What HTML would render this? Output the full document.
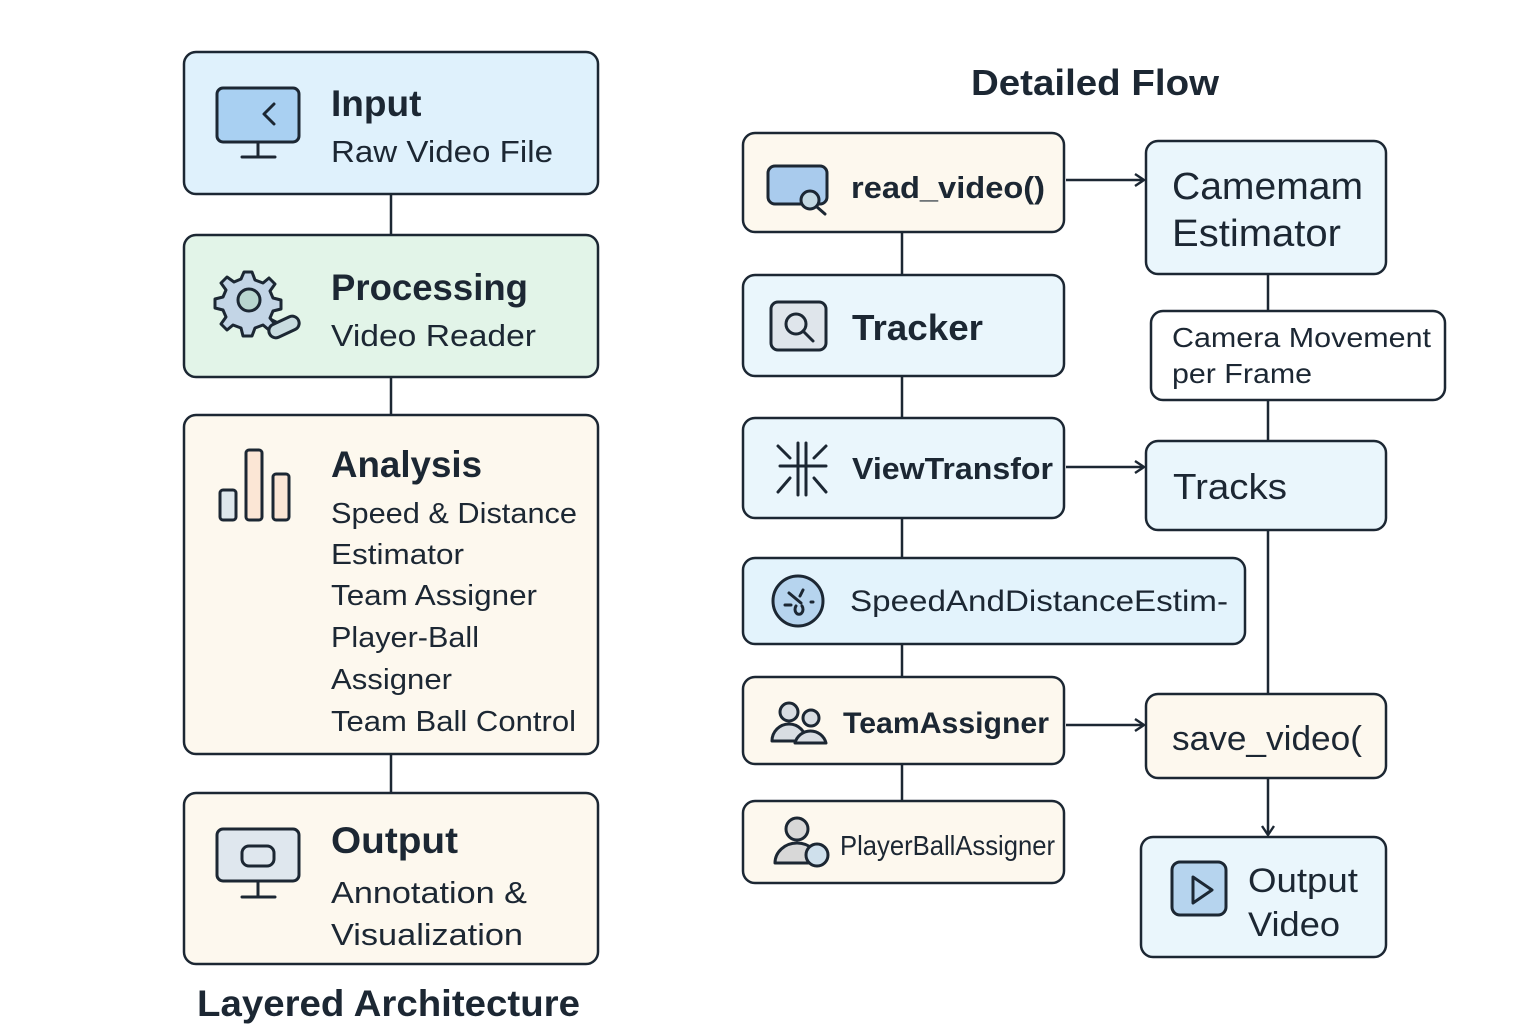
<!DOCTYPE html>
<html><head><meta charset="utf-8"><style>
html,body{margin:0;padding:0;background:#fff;}
svg{display:block;}
text{font-family:"Liberation Sans","DejaVu Sans",sans-serif;fill:#1c2733;}
.b{font-weight:bold;}
</style></head><body>
<svg width="1536" height="1024" viewBox="0 0 1536 1024" xmlns="http://www.w3.org/2000/svg">
<defs>
<marker id="ah" markerWidth="14" markerHeight="14" refX="11" refY="7" orient="auto" markerUnits="userSpaceOnUse">
<path d="M2,1 L11,7 L2,13" fill="none" stroke="#1c2733" stroke-width="2.4"/>
</marker>
</defs>
<g stroke="#1c2733" stroke-width="2.5" fill="none">
<!-- left connectors -->
<line x1="391" y1="194" x2="391" y2="235"/>
<line x1="391" y1="377" x2="391" y2="415"/>
<line x1="391" y1="754" x2="391" y2="793"/>
<!-- right connectors -->
<line x1="902" y1="232" x2="902" y2="275"/>
<line x1="902" y1="376" x2="902" y2="418"/>
<line x1="902" y1="518" x2="902" y2="558"/>
<line x1="902" y1="644" x2="902" y2="677"/>
<line x1="902" y1="764" x2="902" y2="801"/>
<line x1="1268" y1="274" x2="1268" y2="311"/>
<line x1="1268" y1="400" x2="1268" y2="441"/>
<line x1="1268" y1="530" x2="1268" y2="694"/>
<line x1="1268" y1="778" x2="1268" y2="835" marker-end="url(#ah)"/>
<line x1="1066" y1="180" x2="1144" y2="180" marker-end="url(#ah)"/>
<line x1="1066" y1="467" x2="1144" y2="467" marker-end="url(#ah)"/>
<line x1="1066" y1="725" x2="1144" y2="725" marker-end="url(#ah)"/>
</g>
<g stroke="#1c2733" stroke-width="2.5">
<rect x="184" y="52" width="414" height="142" rx="12" fill="#dff1fc"/>
<rect x="184" y="235" width="414" height="142" rx="12" fill="#e2f4e8"/>
<rect x="184" y="415" width="414" height="339" rx="12" fill="#fdf8ee"/>
<rect x="184" y="793" width="414" height="171" rx="12" fill="#fdf8ee"/>
<rect x="743" y="133" width="321" height="99" rx="12" fill="#fdf8ee"/>
<rect x="1146" y="141" width="240" height="133" rx="12" fill="#eaf6fc"/>
<rect x="1151" y="311" width="294" height="89" rx="12" fill="#ffffff"/>
<rect x="743" y="275" width="321" height="101" rx="12" fill="#eaf6fc"/>
<rect x="743" y="418" width="321" height="100" rx="12" fill="#eaf6fc"/>
<rect x="1146" y="441" width="240" height="89" rx="12" fill="#eaf6fc"/>
<rect x="743" y="558" width="502" height="86" rx="12" fill="#e3f3fc"/>
<rect x="743" y="677" width="321" height="87" rx="12" fill="#fdf8ee"/>
<rect x="1146" y="694" width="240" height="84" rx="12" fill="#fdf8ee"/>
<rect x="743" y="801" width="321" height="82" rx="12" fill="#fdf8ee"/>
<rect x="1141" y="837" width="245" height="120" rx="12" fill="#eaf6fc"/>
</g>
<!-- icons -->
<g stroke="#1c2733" stroke-width="3" fill="none" stroke-linecap="round" stroke-linejoin="round">
<rect x="217" y="88" width="82" height="54" rx="6" fill="#a9d0f2"/>
<path d="M274,104 L264,114 L274,124"/>
<line x1="258" y1="142" x2="258" y2="156"/><line x1="242" y1="157" x2="275" y2="157"/>
<path d="M244,272 l8,0 l3,8 l8,3 l6,-5 l6,6 l-5,7 l3,7 l8,2 l0,9 l-8,2 l-3,7 l5,6 l-6,6 l-6,-5 l-8,3 l-3,8 l-9,0 l-2,-8 l-8,-3 l-6,5 l-6,-6 l5,-7 l-3,-7 l-8,-2 l0,-9 l8,-2 l3,-7 l-5,-7 l6,-6 l7,5 l7,-3 z" fill="#c3d5e6"/>
<circle cx="249" cy="300" r="11" fill="#b8d6cf"/>
<line x1="272" y1="320" x2="280" y2="324"/>
<rect x="268" y="320" width="32" height="14" rx="7" transform="rotate(-25 284 327)" fill="#c9dce0"/>
<rect x="220" y="490" width="16" height="30" rx="3" fill="#dde7ec"/>
<rect x="246" y="450" width="16" height="70" rx="3" fill="#fbe6d5"/>
<rect x="273" y="474" width="16" height="46" rx="3" fill="#fbe6d5"/>
<rect x="217" y="829" width="82" height="52" rx="6" fill="#dfe7ee"/>
<rect x="242" y="846" width="32" height="20" rx="7"/>
<line x1="258" y1="881" x2="258" y2="896"/><line x1="242" y1="897" x2="275" y2="897"/>
<rect x="768" y="166" width="59" height="38" rx="7" fill="#a9cbed"/>
<circle cx="810" cy="200" r="9" fill="#c3d8e2"/><line x1="817" y1="207" x2="825" y2="214"/>
<rect x="771" y="302" width="55" height="48" rx="7" fill="#dfe5eb"/>
<circle cx="796" cy="324" r="10"/><line x1="803" y1="331" x2="813" y2="341"/>
<g stroke-width="3">
<line x1="798" y1="443" x2="798" y2="495"/><line x1="806" y1="443" x2="806" y2="495"/>
<line x1="780" y1="466" x2="826" y2="466"/>
<line x1="778" y1="446" x2="790" y2="458"/><line x1="826" y1="446" x2="814" y2="458"/>
<line x1="778" y1="492" x2="790" y2="478"/><line x1="826" y1="492" x2="814" y2="478"/>
</g>
<circle cx="798" cy="601" r="25" fill="#b6d4ee"/>
<path d="M789,593 l12,10 M803,590 l-3,6 M785,605 l6,0 M811,602 l2,0 M796,606 a4,5 0 1,0 6,0"/>
<circle cx="789" cy="712" r="9" fill="#d8dde2"/><path d="M772,741 a17,17 0 0,1 34,0 z" fill="#d8dde2"/>
<circle cx="811" cy="718" r="8" fill="#d8dde2"/><path d="M795,743 a16,16 0 0,1 31,0 z" fill="#d8dde2"/>
<circle cx="797" cy="829" r="11" fill="#d8d8d8"/><path d="M775,863 a22,20 0 0,1 44,0 z" fill="#d8d8d8"/>
<circle cx="817" cy="855" r="11" fill="#cfe0ec"/>
<rect x="1172" y="862" width="54" height="53" rx="8" fill="#b6d4ee"/>
<path d="M1193,877 L1212,890 L1193,903 z"/>
</g>
<!-- text -->
<text x="331" y="116" class="b" font-size="37">Input</text>
<text x="331" y="162" font-size="31" textLength="222" lengthAdjust="spacingAndGlyphs">Raw Video File</text>
<text x="331" y="300" class="b" font-size="37" textLength="197" lengthAdjust="spacingAndGlyphs">Processing</text>
<text x="331" y="346" font-size="31" textLength="205" lengthAdjust="spacingAndGlyphs">Video Reader</text>
<text x="331" y="477" class="b" font-size="37" textLength="151" lengthAdjust="spacingAndGlyphs">Analysis</text>
<g font-size="29">
<text x="331" y="523" textLength="246" lengthAdjust="spacingAndGlyphs">Speed &amp; Distance</text>
<text x="331" y="564" textLength="133" lengthAdjust="spacingAndGlyphs">Estimator</text>
<text x="331" y="605" textLength="206" lengthAdjust="spacingAndGlyphs">Team Assigner</text>
<text x="331" y="647" textLength="148" lengthAdjust="spacingAndGlyphs">Player-Ball</text>
<text x="331" y="689" textLength="121" lengthAdjust="spacingAndGlyphs">Assigner</text>
<text x="331" y="731" textLength="245" lengthAdjust="spacingAndGlyphs">Team Ball Control</text>
</g>
<text x="331" y="853" class="b" font-size="37" textLength="127" lengthAdjust="spacingAndGlyphs">Output</text>
<text x="331" y="903" font-size="31" textLength="196" lengthAdjust="spacingAndGlyphs">Annotation &amp;</text>
<text x="331" y="945" font-size="31" textLength="192" lengthAdjust="spacingAndGlyphs">Visualization</text>
<text x="197" y="1016" class="b" font-size="37" textLength="383" lengthAdjust="spacingAndGlyphs">Layered Architecture</text>
<text x="971" y="95" class="b" font-size="36" textLength="248" lengthAdjust="spacingAndGlyphs">Detailed Flow</text>
<text x="851" y="198" class="b" font-size="31" textLength="194" lengthAdjust="spacingAndGlyphs">read_video()</text>
<text x="1172" y="199" font-size="38" textLength="191" lengthAdjust="spacingAndGlyphs">Camemam</text>
<text x="1172" y="246" font-size="38" textLength="169" lengthAdjust="spacingAndGlyphs">Estimator</text>
<text x="1172" y="347" font-size="28" textLength="259" lengthAdjust="spacingAndGlyphs">Camera Movement</text>
<text x="1172" y="383" font-size="28" textLength="140" lengthAdjust="spacingAndGlyphs">per Frame</text>
<text x="852" y="340" class="b" font-size="36" textLength="131" lengthAdjust="spacingAndGlyphs">Tracker</text>
<text x="852" y="479" class="b" font-size="31" textLength="201" lengthAdjust="spacingAndGlyphs">ViewTransfor</text>
<text x="1173" y="499" font-size="36" textLength="114" lengthAdjust="spacingAndGlyphs">Tracks</text>
<text x="850" y="611" font-size="30" textLength="378" lengthAdjust="spacingAndGlyphs">SpeedAndDistanceEstim-</text>
<text x="843" y="733" class="b" font-size="30" textLength="206" lengthAdjust="spacingAndGlyphs">TeamAssigner</text>
<text x="1172" y="750" font-size="34" textLength="190" lengthAdjust="spacingAndGlyphs">save_video(</text>
<text x="840" y="855" font-size="28" textLength="215" lengthAdjust="spacingAndGlyphs">PlayerBallAssigner</text>
<text x="1248" y="892" font-size="34" textLength="110" lengthAdjust="spacingAndGlyphs">Output</text>
<text x="1248" y="936" font-size="34" textLength="92" lengthAdjust="spacingAndGlyphs">Video</text>
</svg>
</body></html>
